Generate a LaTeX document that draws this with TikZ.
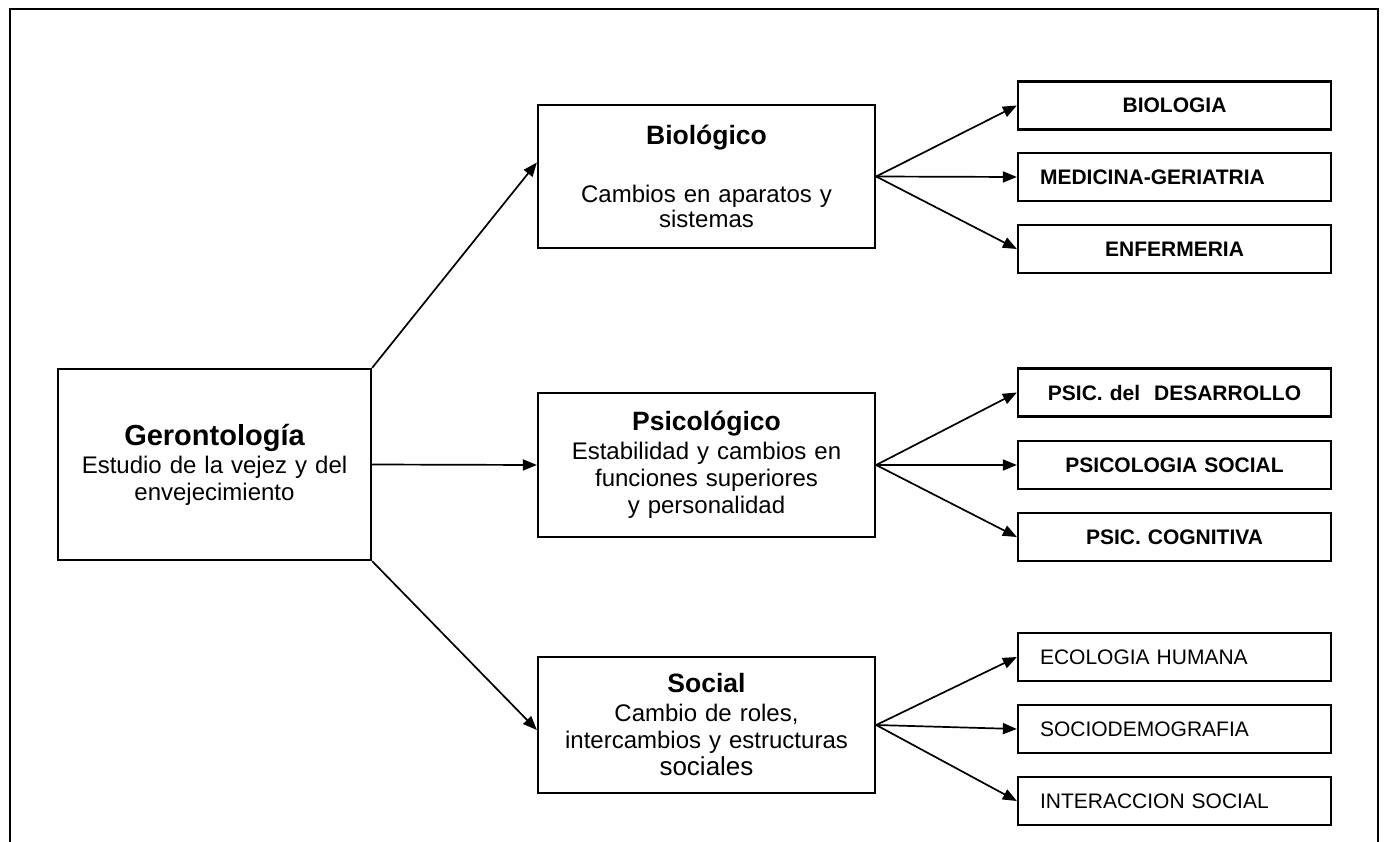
\documentclass[tikz,border=0pt]{standalone}
\usepackage{fontspec}
\setmainfont{Liberation Sans}
\usetikzlibrary{arrows.meta}
\begin{document}
\begin{tikzpicture}[x=1pt,y=-1pt,
  midbox/.style={draw,line width=2.3pt,minimum width=337pt,text width=317pt,inner xsep=10pt,inner ysep=0pt,align=center,font=\fontsize{24}{27}\selectfont},
  rbox/.style={draw,line width=2.3pt,minimum height=48pt,text width=269pt,inner xsep=22pt,inner ysep=0pt,font=\fontsize{21}{24}\selectfont},
  conn/.style={line width=1.7pt,-{Triangle[length=14pt,width=11pt]}},
  frame/.style={line width=2.6pt}]
\useasboundingbox (0,0) rectangle (1386,842);
\draw[frame] (10,842) -- (10,9) -- (1378,9) -- (1378,842);

\node[draw,line width=2.3pt,minimum width=313pt,minimum height=191pt,text width=293pt,inner xsep=10pt,inner ysep=0pt,align=center,font=\fontsize{24}{27}\selectfont] (ger) at (214.5,464.5)
  {{\fontsize{29}{27}\selectfont\bfseries Gerontología}\\[1pt] Estudio de la vejez y del\\ envejecimiento};

\node[midbox,minimum height=143pt] (bio) at (706.5,176.5)
  {{\fontsize{26.5}{27}\selectfont\bfseries Biológico}\\[31pt] Cambios en aparatos y\\[-2pt] sistemas};
\node[midbox,minimum height=144pt] (psi) at (706.5,465)
  {{\fontsize{26.5}{27}\selectfont\bfseries Psicológico}\\[2pt] Estabilidad y cambios en\\ funciones superiores\\ y personalidad};
\node[midbox,minimum height=136pt] (soc) at (706.5,725)
  {{\fontsize{26.5}{27}\selectfont\bfseries Social}\\[2pt] Cambio de roles,\\ intercambios y estructuras\\ {\fontsize{26}{27}\selectfont sociales}};

\node[rbox,align=center,font=\fontsize{21}{24}\selectfont\bfseries] (b1) at (1174.5,105.5) {BIOLOGIA};
\node[rbox,align=left,font=\fontsize{21}{24}\selectfont\bfseries] (b2) at (1174.5,177) {MEDICINA-GERIATRIA};
\node[rbox,align=center,font=\fontsize{21}{24}\selectfont\bfseries] (b3) at (1174.5,249) {ENFERMERIA};

\node[rbox,align=center,font=\fontsize{21}{24}\selectfont\bfseries] (p1) at (1174.5,392.5) {PSIC. del\ \ DESARROLLO};
\node[rbox,align=center,font=\fontsize{21}{24}\selectfont\bfseries] (p2) at (1174.5,465) {PSICOLOGIA SOCIAL};
\node[rbox,align=center,font=\fontsize{21}{24}\selectfont\bfseries] (p3) at (1174.5,537) {PSIC. COGNITIVA};

\node[rbox,align=left] (s1) at (1174.5,657) {ECOLOGIA HUMANA};
\node[rbox,align=left] (s2) at (1174.5,729) {SOCIODEMOGRAFIA};
\node[rbox,align=left] (s3) at (1174.5,801) {INTERACCION SOCIAL};

\draw[conn] (ger.north east) -- ([yshift=14pt]bio.west);
\draw[conn] (ger.east) -- (psi.west);
\draw[conn] (ger.south east) -- ([yshift=-5pt]soc.west);

\draw[conn] (bio.east) -- (b1.west);
\draw[conn] (bio.east) -- (b2.west);
\draw[conn] (bio.east) -- (b3.west);
\draw[conn] (psi.east) -- (p1.west);
\draw[conn] (psi.east) -- (p2.west);
\draw[conn] (psi.east) -- (p3.west);
\draw[conn] (soc.east) -- (s1.west);
\draw[conn] (soc.east) -- (s2.west);
\draw[conn] (soc.east) -- (s3.west);
\end{tikzpicture}
\end{document}
